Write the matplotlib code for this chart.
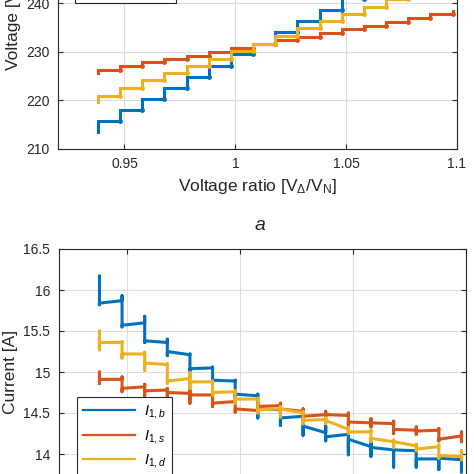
import matplotlib
matplotlib.use('Agg')
import matplotlib.pyplot as plt
from matplotlib.lines import Line2D

plt.rcParams['font.family'] = ['Liberation Sans', 'DejaVu Sans']
plt.rcParams['mathtext.fontset'] = 'custom'
plt.rcParams['mathtext.rm'] = 'Liberation Sans'
plt.rcParams['mathtext.it'] = 'Liberation Sans:italic'
plt.rcParams['mathtext.sf'] = 'Liberation Sans'

# ---------------- data ----------------
ratio = [0.938, 0.948, 0.958, 0.968, 0.978, 0.988, 0.998, 1.008, 1.018,
         1.028, 1.038, 1.048, 1.058, 1.068, 1.078, 1.088, 1.098]

# (a) voltages, one level per tap position
v_b = [215.8, 218.0, 220.3, 222.5, 224.8, 227.1, 229.5, 231.7, 234.0,
       236.3, 238.6, 240.9, 243.2, 245.5, 247.8, 250.1]
v_s = [226.3, 227.0, 227.8, 228.5, 229.2, 229.9, 230.8, 231.6, 232.4,
       233.1, 233.9, 234.6, 235.4, 236.1, 236.9, 237.7]
v_d = [221.0, 222.6, 224.2, 225.6, 227.1, 228.6, 230.2, 231.7, 233.2,
       234.8, 236.3, 237.7, 239.2, 240.8, 242.3, 243.8]
v_first = {'b': 213.6, 's': 225.6, 'd': 219.6}
v_last = {'b': 250.1, 's': 238.4, 'd': 243.8}

# (b) currents: level at start / end of each tap interval, spike range at each switch
i_b_start = [15.84, 15.57, 15.38, 15.25, 15.04, 14.90, 14.73, 14.55, 14.44,
             14.34, 14.21, 14.18, 14.08, 14.05, 13.94, 13.95]
i_b_end = [15.87, 15.60, 15.36, 15.21, 15.05, 14.89, 14.71, 14.54, 14.46,
           14.26, 14.24, 14.09, 14.05, 14.04, 13.94, 13.93]
i_b_hi = [16.17, 15.93, 15.68, 15.40, 15.22, 15.06, 14.90, 14.73, 14.57,
          14.47, 14.34, 14.25, 14.18, 14.07, 14.05, 13.96]
i_b_lo = [15.82, 15.55, 15.36, 15.20, 15.01, 14.87, 14.68, 14.44, 14.35,
          14.23, 14.16, 13.99, 13.97, 13.84, 13.84, 13.81]

i_s_start = [14.91, 14.80, 14.77, 14.75, 14.72, 14.62, 14.55, 14.58, 14.55,
             14.46, 14.48, 14.39, 14.38, 14.30, 14.28, 14.18]
i_s_end = [14.91, 14.82, 14.78, 14.74, 14.72, 14.64, 14.53, 14.59, 14.52,
           14.48, 14.47, 14.38, 14.37, 14.29, 14.29, 14.22]
i_s_hi = [15.00, 14.94, 14.85, 14.80, 14.78, 14.76, 14.66, 14.63, 14.62,
          14.55, 14.52, 14.50, 14.43, 14.40, 14.33, 14.31]
i_s_lo = [14.86, 14.76, 14.71, 14.70, 14.62, 14.58, 14.51, 14.52, 14.50,
          14.43, 14.44, 14.35, 14.33, 14.25, 14.24, 14.16]

i_d_start = [15.36, 15.22, 15.11, 14.89, 14.88, 14.75, 14.67, 14.54, 14.55,
             14.41, 14.41, 14.27, 14.19, 14.15, 14.06, 13.98]
i_d_end = [15.36, 15.22, 15.09, 14.92, 14.88, 14.76, 14.67, 14.55, 14.50,
           14.42, 14.30, 14.27, 14.15, 14.10, 14.09, 13.97]
i_d_hi = [15.50, 15.37, 15.24, 15.10, 14.99, 14.89, 14.77, 14.68, 14.58,
          14.52, 14.44, 14.32, 14.29, 14.17, 14.12, 14.11]
i_d_lo = [15.27, 15.17, 15.02, 14.86, 14.80, 14.72, 14.62, 14.50, 14.45,
          14.37, 14.37, 14.25, 14.15, 14.08, 14.04, 13.95]
i_final = {'b': (13.95, 13.78), 's': (14.27, 14.15), 'd': (14.04, 13.93)}

xticks = [0.95, 1.0, 1.05, 1.1]
xticklabels = ['0.95', '1', '1.05', '1.1']
v_ticks = [210, 220, 230, 240, 250, 260]
i_ticks = [13.5, 14, 14.5, 15, 15.5, 16, 16.5]
i_ticklabels = ['13.5', '14', '14.5', '15', '15.5', '16', '16.5']

C_B = '#0072BD'
C_S = '#D95319'
C_D = '#EDB120'
AXC = '#262626'


def stairs_top(levels, first, last):
    xs = [ratio[0]]
    ys = [first]
    for i, lv in enumerate(levels):
        xs += [ratio[i], ratio[i + 1]]
        ys += [lv, lv]
    xs.append(ratio[-1])
    ys.append(last)
    return xs, ys


def stairs_bottom(start, end, hi, lo, fin):
    xs, ys = [], []
    for i in range(len(start)):
        xs += [ratio[i]] * 3
        ys += [hi[i], lo[i], start[i]]
        xs.append(ratio[i + 1])
        ys.append(end[i])
    xs += [ratio[-1]] * 2
    ys += [fin[0], fin[1]]
    return xs, ys


def style(ax):
    for sp in ax.spines.values():
        sp.set_color(AXC)
        sp.set_linewidth(0.8)
    ax.tick_params(direction='in', top=True, right=True, length=3.5,
                   width=0.8, color=AXC, labelcolor=AXC, labelsize=10, pad=6)
    ax.grid(True, color='#dcdcdc', linewidth=0.8)
    ax.set_axisbelow(True)


def legend_handles(labels):
    return [Line2D([], [], color=c, lw=1.6, label=l)
            for c, l in zip([C_B, C_S, C_D], labels)]


LEG_KW = dict(borderaxespad=0, fancybox=False, framealpha=1, edgecolor=AXC,
              fontsize=10.5, handlelength=3.6, handletextpad=0.6,
              labelspacing=0.45, borderpad=0.4)

fig = plt.figure(figsize=(4.74, 4.74), dpi=100)
W = 474.0

# ---- top panel (a) ----
ax1 = fig.add_axes([58 / W, (W - 149) / W, (457 - 58) / W, 243 / W])
for lv, key, c in [(v_b, 'b', C_B), (v_s, 's', C_S), (v_d, 'd', C_D)]:
    xs, ys = stairs_top(lv, v_first[key], v_last[key])
    ax1.plot(xs, ys, color=c, lw=2.2, solid_joinstyle='miter')
    ax1.plot(ratio[1:], lv, 'o', color=c, ms=2.5, mec=c)
ax1.set_xlim(0.92, 1.1)
ax1.set_ylim(210, 260)
ax1.set_xticks(xticks)
ax1.set_xticklabels(xticklabels)
ax1.set_yticks(v_ticks)
style(ax1)
ax1.set_xlabel(r'Voltage ratio [V$_\Delta$/V$_\mathrm{N}$]', fontsize=12.5, color=AXC, labelpad=4)
ax1.set_ylabel('Voltage [V]', fontsize=12.5, color=AXC, labelpad=4)
leg1 = ax1.legend(handles=legend_handles([r'$V_{1,b}$', r'$V_{1,s}$', r'$V_{1,d}$']),
                  loc='lower left', bbox_to_anchor=(75 / W, (W - 2.7) / W),
                  bbox_transform=fig.transFigure, **LEG_KW)
leg1.get_frame().set_linewidth(0.8)

fig.text(260 / W, (W - 226) / W, 'a', fontsize=14, style='italic', color=AXC,
         ha='center', va='center')

# ---- bottom panel (b) ----
ax2 = fig.add_axes([58.7 / W, (W - 495) / W, (466 - 58.7) / W, 246 / W])
for args, key, c in [((i_b_start, i_b_end, i_b_hi, i_b_lo), 'b', C_B),
                     ((i_s_start, i_s_end, i_s_hi, i_s_lo), 's', C_S),
                     ((i_d_start, i_d_end, i_d_hi, i_d_lo), 'd', C_D)]:
    xs, ys = stairs_bottom(*args, i_final[key])
    ax2.plot(xs, ys, color=c, lw=2.2)
ax2.set_xlim(0.92, 1.1)
ax2.set_ylim(13.5, 16.5)
ax2.set_xticks(xticks)
ax2.set_xticklabels(xticklabels)
ax2.set_yticks(i_ticks)
ax2.set_yticklabels(i_ticklabels)
style(ax2)
ax2.set_ylabel('Current [A]', fontsize=12.5, color=AXC, labelpad=4)
leg2 = ax2.legend(handles=legend_handles([r'$I_{1,b}$', r'$I_{1,s}$', r'$I_{1,d}$']),
                  loc='upper left', bbox_to_anchor=(76.7 / W, (W - 397.3) / W),
                  bbox_transform=fig.transFigure, **LEG_KW)
leg2.get_frame().set_linewidth(0.8)

fig.savefig('out.png', dpi=100)
